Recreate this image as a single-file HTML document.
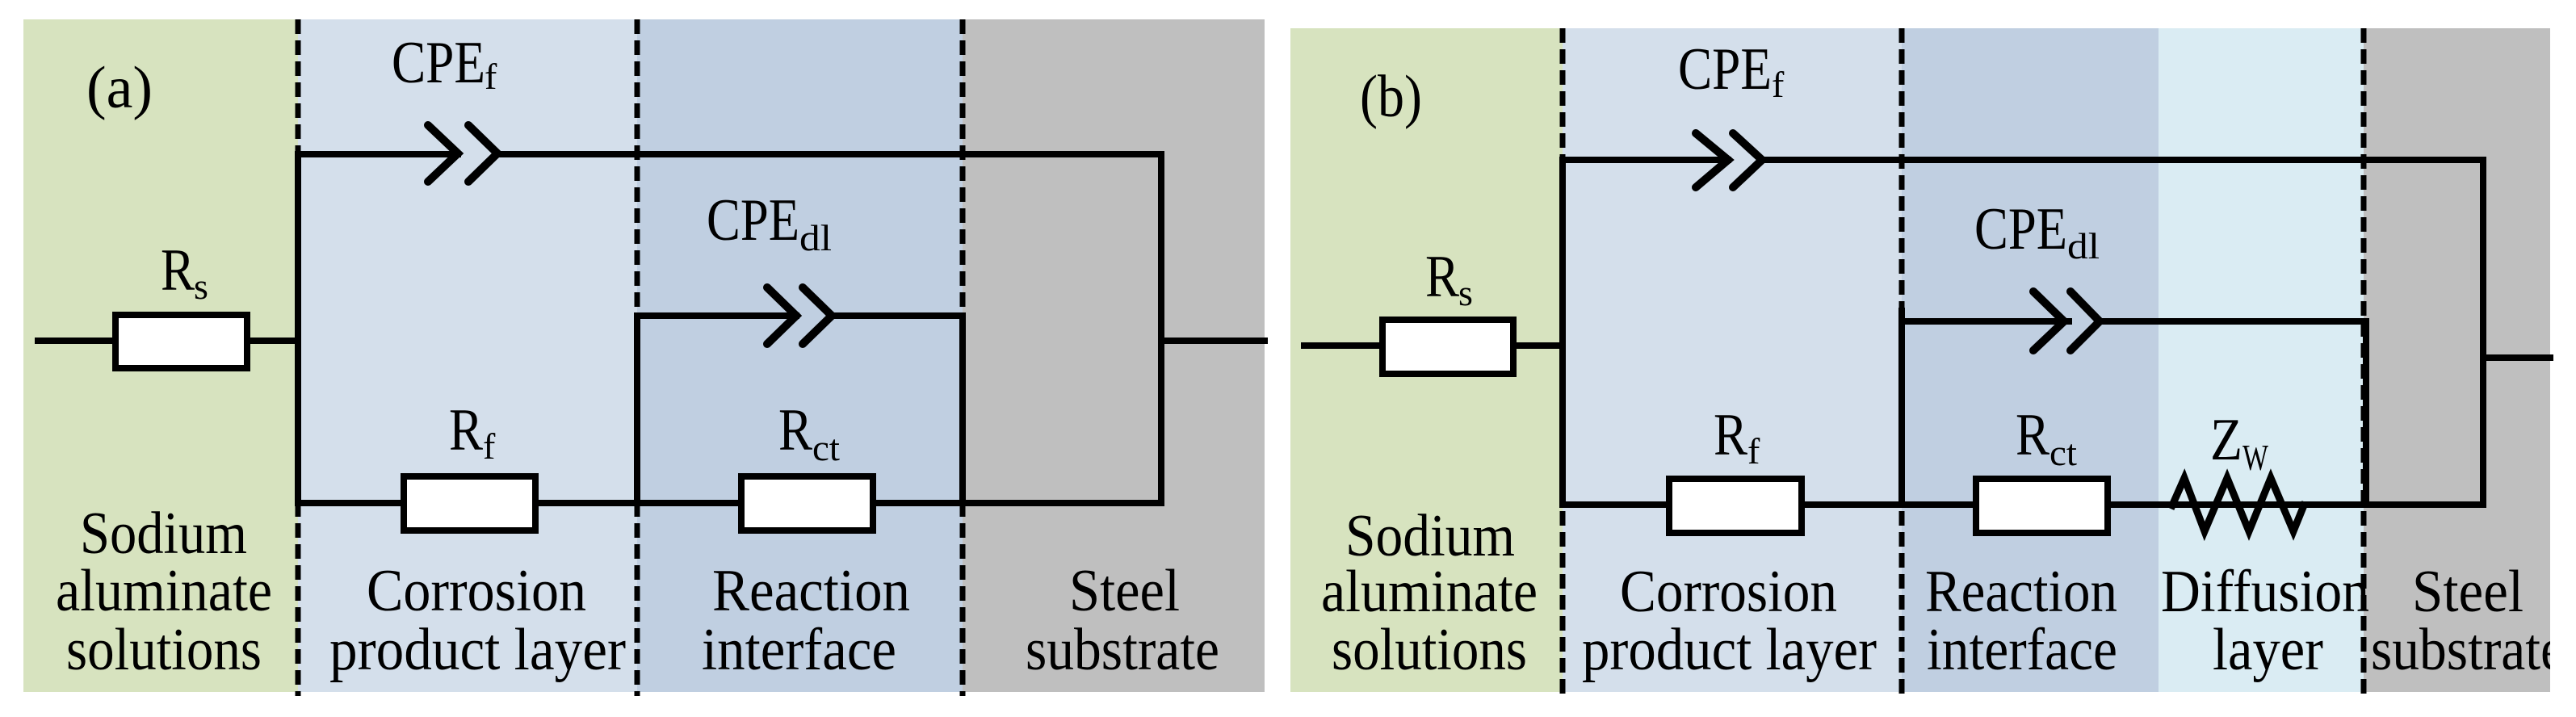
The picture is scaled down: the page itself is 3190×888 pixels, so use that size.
<!DOCTYPE html>
<html><head><meta charset="utf-8"><style>
html,body{margin:0;padding:0;background:#fff;}
svg{display:block;}
svg text{font-family:"Liberation Serif","Times New Roman","DejaVu Serif","Noto Serif CJK SC",serif !important;fill:#000;}
</style></head><body>
<svg width="3190" height="888" viewBox="0 0 3190 888" xmlns="http://www.w3.org/2000/svg">
<defs><clipPath id="cb"><rect x="1598" y="24" width="1560" height="840"/></clipPath></defs>
<rect x="29" y="24" width="340" height="833" fill="#d7e3bf"/>
<rect x="369" y="24" width="420" height="833" fill="#d4dfeb"/>
<rect x="789" y="24" width="403" height="833" fill="#c0cfe1"/>
<rect x="1192" y="24" width="374" height="833" fill="#bfbfbf"/>
<rect x="1598" y="35" width="337" height="822" fill="#d7e3bf"/>
<rect x="1935" y="35" width="420" height="822" fill="#d4dfeb"/>
<rect x="2355" y="35" width="318" height="822" fill="#c0cfe1"/>
<rect x="2673" y="35" width="254" height="822" fill="#daecf3"/>
<rect x="2927" y="35" width="231" height="822" fill="#bfbfbf"/>

<g stroke="#000" fill="none" stroke-width="8" stroke-linecap="square">
<line x1="47" y1="422" x2="369" y2="422"/>
<polyline points="567,191 369,191 369,623 1438,623"/>
<line x1="616" y1="191" x2="1438" y2="191"/>
<line x1="1438" y1="191" x2="1438" y2="623"/>
<line x1="1438" y1="422" x2="1566" y2="422"/>
<polyline points="530,155 567,190 530,225" stroke-width="10" stroke-linecap="round"/>
<polyline points="580,155 616,190 580,225" stroke-width="10" stroke-linecap="round"/>
<line x1="789" y1="391" x2="789" y2="623"/>
<line x1="789" y1="391" x2="986" y2="391"/>
<line x1="1030" y1="391" x2="1192" y2="391"/>
<line x1="1192" y1="391" x2="1192" y2="623"/>
<polyline points="950,356 986,391 950,426" stroke-width="10" stroke-linecap="round"/>
<polyline points="994,356 1030,391 994,426" stroke-width="10" stroke-linecap="round"/>
<rect x="143" y="390" width="163" height="66" fill="#fff"/>
<rect x="500" y="590" width="163" height="67" fill="#fff"/>
<rect x="918" y="590" width="163" height="67" fill="#fff"/>

<line x1="1615" y1="428" x2="1935" y2="428"/>
<polyline points="2140,198 1935,198 1935,625 3075,625"/>
<line x1="2182" y1="198" x2="3075" y2="198"/>
<line x1="3075" y1="198" x2="3075" y2="625"/>
<line x1="3075" y1="443" x2="3158" y2="443"/>
<polyline points="2100,165 2140,198 2100,232" stroke-width="10" stroke-linecap="round"/>
<polyline points="2146,165 2182,198 2146,232" stroke-width="10" stroke-linecap="round"/>
<line x1="2355" y1="385" x2="2355" y2="625"/>
<line x1="2355" y1="398" x2="2562" y2="398"/>
<line x1="2600" y1="398" x2="2930" y2="398"/>
<line x1="2930" y1="398" x2="2930" y2="625"/>
<polyline points="2518,361 2556,398 2518,434" stroke-width="10" stroke-linecap="round"/>
<polyline points="2564,361 2600,398 2564,434" stroke-width="10" stroke-linecap="round"/>
<rect x="1712" y="396" width="162" height="67" fill="#fff"/>
<rect x="2067" y="593" width="164" height="67" fill="#fff"/>
<rect x="2447" y="593" width="163" height="67" fill="#fff"/>
<polyline points="2690,626 2705,592 2730,658 2758,592 2785,658 2812,592 2840,658 2853,626" stroke-width="9" stroke-linejoin="miter"/>
</g>

<g stroke="#000" stroke-width="7" stroke-dasharray="18 8" stroke-linecap="butt">
<line x1="369" y1="24" x2="369" y2="862"/>
<line x1="789" y1="24" x2="789" y2="862"/>
<line x1="1192" y1="24" x2="1192" y2="862"/>
<line x1="1935" y1="35" x2="1935" y2="862"/>
<line x1="2355" y1="35" x2="2355" y2="862"/>
<line x1="2927" y1="35" x2="2927" y2="862"/>
</g>

<g font-size="74">
<text x="107" y="133" textLength="82" lengthAdjust="spacingAndGlyphs">(a)</text>
<text x="485" y="102" textLength="116" lengthAdjust="spacingAndGlyphs">CPE</text><text x="600" y="110" font-size="46">f</text>
<text x="199" y="359" textLength="42" lengthAdjust="spacingAndGlyphs">R</text><text x="240" y="370" font-size="46">s</text>
<text x="875" y="297" textLength="115" lengthAdjust="spacingAndGlyphs">CPE</text><text x="990" y="310" font-size="46" textLength="40" lengthAdjust="spacingAndGlyphs">dl</text>
<text x="556" y="557" textLength="42" lengthAdjust="spacingAndGlyphs">R</text><text x="598" y="568" font-size="46">f</text>
<text x="964" y="557" textLength="42" lengthAdjust="spacingAndGlyphs">R</text><text x="1006" y="570" font-size="46" textLength="34" lengthAdjust="spacingAndGlyphs">ct</text>
<text x="99" y="685" textLength="207" lengthAdjust="spacingAndGlyphs">Sodium</text>
<text x="69" y="756" textLength="268" lengthAdjust="spacingAndGlyphs">aluminate</text>
<text x="82" y="829" textLength="242" lengthAdjust="spacingAndGlyphs">solutions</text>
<text x="454" y="756" textLength="272" lengthAdjust="spacingAndGlyphs">Corrosion</text>
<text x="408" y="829" textLength="367" lengthAdjust="spacingAndGlyphs">product layer</text>
<text x="882" y="756" textLength="245" lengthAdjust="spacingAndGlyphs">Reaction</text>
<text x="869" y="829" textLength="241" lengthAdjust="spacingAndGlyphs">interface</text>
<text x="1324" y="756" textLength="137" lengthAdjust="spacingAndGlyphs">Steel</text>
<text x="1270" y="829" textLength="240" lengthAdjust="spacingAndGlyphs">substrate</text>
</g>

<g font-size="74" clip-path="url(#cb)">
<text x="1684" y="144" textLength="77" lengthAdjust="spacingAndGlyphs">(b)</text>
<text x="2078" y="110" textLength="116" lengthAdjust="spacingAndGlyphs">CPE</text><text x="2194" y="120" font-size="46">f</text>
<text x="1765" y="367" textLength="42" lengthAdjust="spacingAndGlyphs">R</text><text x="1806" y="378" font-size="46">s</text>
<text x="2445" y="308" textLength="115" lengthAdjust="spacingAndGlyphs">CPE</text><text x="2560" y="320" font-size="46" textLength="40" lengthAdjust="spacingAndGlyphs">dl</text>
<text x="2122" y="563" textLength="42" lengthAdjust="spacingAndGlyphs">R</text><text x="2164" y="574" font-size="46">f</text>
<text x="2496" y="563" textLength="42" lengthAdjust="spacingAndGlyphs">R</text><text x="2538" y="576" font-size="46" textLength="34" lengthAdjust="spacingAndGlyphs">ct</text>
<text x="2737" y="569" textLength="40" lengthAdjust="spacingAndGlyphs">Z</text><text x="2777" y="582" font-size="46" textLength="32" lengthAdjust="spacingAndGlyphs">W</text>
<text x="1666" y="688" textLength="210" lengthAdjust="spacingAndGlyphs">Sodium</text>
<text x="1636" y="757" textLength="268" lengthAdjust="spacingAndGlyphs">aluminate</text>
<text x="1649" y="829" textLength="242" lengthAdjust="spacingAndGlyphs">solutions</text>
<text x="2006" y="757" textLength="269" lengthAdjust="spacingAndGlyphs">Corrosion</text>
<text x="1959" y="829" textLength="365" lengthAdjust="spacingAndGlyphs">product layer</text>
<text x="2384" y="757" textLength="238" lengthAdjust="spacingAndGlyphs">Reaction</text>
<text x="2386" y="829" textLength="236" lengthAdjust="spacingAndGlyphs">interface</text>
<text x="2676" y="757" textLength="258" lengthAdjust="spacingAndGlyphs">Diffusion</text>
<text x="2740" y="829" textLength="137" lengthAdjust="spacingAndGlyphs">layer</text>
<text x="2987" y="757" textLength="138" lengthAdjust="spacingAndGlyphs">Steel</text>
<text x="2936" y="829" textLength="240" lengthAdjust="spacingAndGlyphs">substrate</text>
</g>
</svg>
</body></html>
